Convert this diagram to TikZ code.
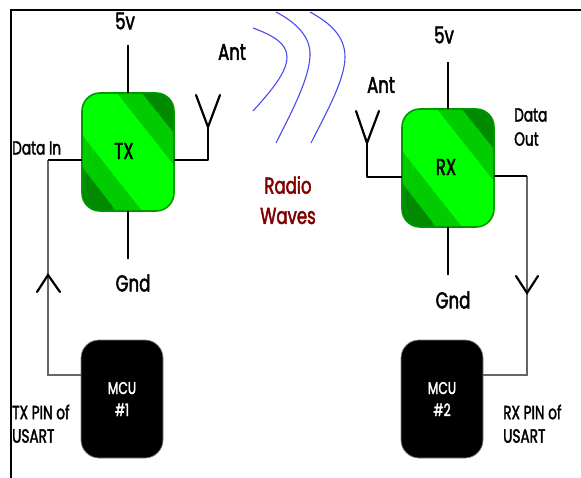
\documentclass[tikz,border=0pt]{standalone}
\usepackage{fontspec}
\setmainfont[FakeStretch=0.72,FakeBold=2]{Poppins}
\definecolor{gA}{HTML}{00FF00}
\definecolor{gB}{HTML}{00CC00}
\definecolor{gC}{HTML}{008A00}
\definecolor{wave}{HTML}{4A4AF0}
\definecolor{maroon}{HTML}{800000}
\tikzset{
  thick line/.style={line width=2.4pt,black},
  thin line/.style={line width=1.3pt,black!60},
  chev/.style={line width=2.2pt,black,line cap=round,line join=miter},
  wavecurve/.style={line width=1.1pt,wave},
  chip/.style={minimum width=92pt,minimum height=118pt,inner sep=0pt},
  mcu/.style={rectangle,rounded corners=18pt,fill=black,text=white,draw=black!50,line width=.7pt,minimum width=82pt,minimum height=118pt,inner sep=0pt,align=center,font=\fontsize{17}{22}\selectfont},
  lbl/.style={inner sep=0pt,font=\fontsize{23}{24}\selectfont},
  small/.style={inner sep=0pt,align=left,font=\fontsize{19}{24}\selectfont},
}
\newcommand{\chipbody}[2]{%
  \begin{scope}[shift={(#1,#2)}]
    \begin{scope}
      \clip[rounded corners=18pt] (0,0) rectangle (92,118);
      \fill[gA] (0,0) rectangle (92,118);
      \fill[gB] (35,0) -- (92,72) -- (92,0) -- cycle;
      \fill[gC] (60,0) -- (92,40) -- (92,0) -- cycle;
      \fill[gB] (0,42) -- (60,118) -- (0,118) -- cycle;
      \fill[gC] (0,74) -- (34,118) -- (0,118) -- cycle;
    \end{scope}
    \draw[gB!75!black,line width=1.6pt,rounded corners=18pt] (0,0) rectangle (92,118);
  \end{scope}}
\begin{document}
\begin{tikzpicture}[x=1pt,y=-1pt]
\useasboundingbox (0,0) rectangle (581,478);
% frame
\draw[black,line width=2.2pt] (581,10) -- (11,10) -- (11,478);
% chips
\chipbody{82}{93}
\chipbody{402}{109}
\node[chip] (tx) at (128,152) {};
\node[chip] (rx) at (448,168) {};
\node[lbl] at (124,151) {TX};
\node[lbl] at (446,167) {RX};
\node[mcu] (m1) at (122,399) {MCU\\\#1};
\node[mcu] (m2) at (442,399) {MCU\\\#2};
% coordinates
\coordinate (tx5) at (128,45);
\coordinate (txg) at (128,259);
\coordinate (rx5) at (448,62);
\coordinate (rxg) at (448,275);
\coordinate (txa) at (208,160);
\coordinate (txs) at (208,127);
\coordinate (txl) at (196,95);
\coordinate (txr) at (220,95);
\coordinate (rxa) at (367,177);
\coordinate (rxs) at (367,143);
\coordinate (rxl) at (356,111);
\coordinate (rxr) at (379,111);
\coordinate (din) at (48,160);
\coordinate (dinb) at (48,375);
\coordinate (dout) at (527,176);
\coordinate (doutb) at (527,375);
\coordinate (c1) at (48,275);
\coordinate (c1l) at (37,292);
\coordinate (c1r) at (60,292);
\coordinate (c2) at (527,293);
\coordinate (c2l) at (516,276);
\coordinate (c2r) at (538,276);
% power
\draw[thick line] (tx5) -- (tx.north -| tx5);
\draw[thick line] (tx.south -| txg) -- (txg);
\draw[thick line] (rx5) -- (rx.north -| rx5);
\draw[thick line] (rx.south -| rxg) -- (rxg);
% antennas
\draw[thick line,line join=round] (tx.east |- txa) -- (txa) -- (txs);
\draw[chev] (txl) -- (txs) -- (txr);
\draw[thick line,line join=round] (rx.west |- rxa) -- (rxa) -- (rxs);
\draw[chev] (rxl) -- (rxs) -- (rxr);
% data
\draw[thin line] (din) -- (dinb) -- (m1.west |- dinb);
\draw[thick line] (din) -- (tx.west |- din);
\draw[thin line] (dout) -- (doutb) -- (m2.east |- doutb);
\draw[thick line] (rx.east |- dout) -- (dout);
\draw[chev] (c1l) -- (c1) -- (c1r);
\draw[chev] (c2l) -- (c2) -- (c2r);
% waves
\draw[wavecurve] (253,28) .. controls (272,35) and (287,43) .. (287,57) .. controls (287,72) and (272,90) .. (253,111);
\draw[wavecurve] (276,12) .. controls (295,22) and (311,36) .. (310,56) .. controls (309,80) and (290,115) .. (276,143);
\draw[wavecurve] (310,12) .. controls (330,23) and (345,36) .. (345,57) .. controls (345,80) and (325,115) .. (311,143);
% labels
\node[lbl] at (125,21) {5v};
\node[lbl] at (444,35) {5v};
\node[lbl] at (232,52) {Ant};
\node[lbl] at (381,85) {Ant};
\node[lbl] at (133,283) {Gnd};
\node[lbl] at (453,300) {Gnd};
\node[lbl,text=maroon] at (288,185) {Radio};
\node[lbl,text=maroon] at (288,216) {Waves};
\node[small,anchor=west] at (12,148) {Data In};
\node[small,anchor=west] at (514,115) {Data};
\node[small,anchor=west] at (514,139) {Out};
\node[small,anchor=west] at (12,412) {TX PIN of};
\node[small,anchor=west] at (12,436) {USART};
\node[small,anchor=west] at (503,412) {RX PIN of};
\node[small,anchor=west] at (503,436) {USART};
\end{tikzpicture}
\end{document}
